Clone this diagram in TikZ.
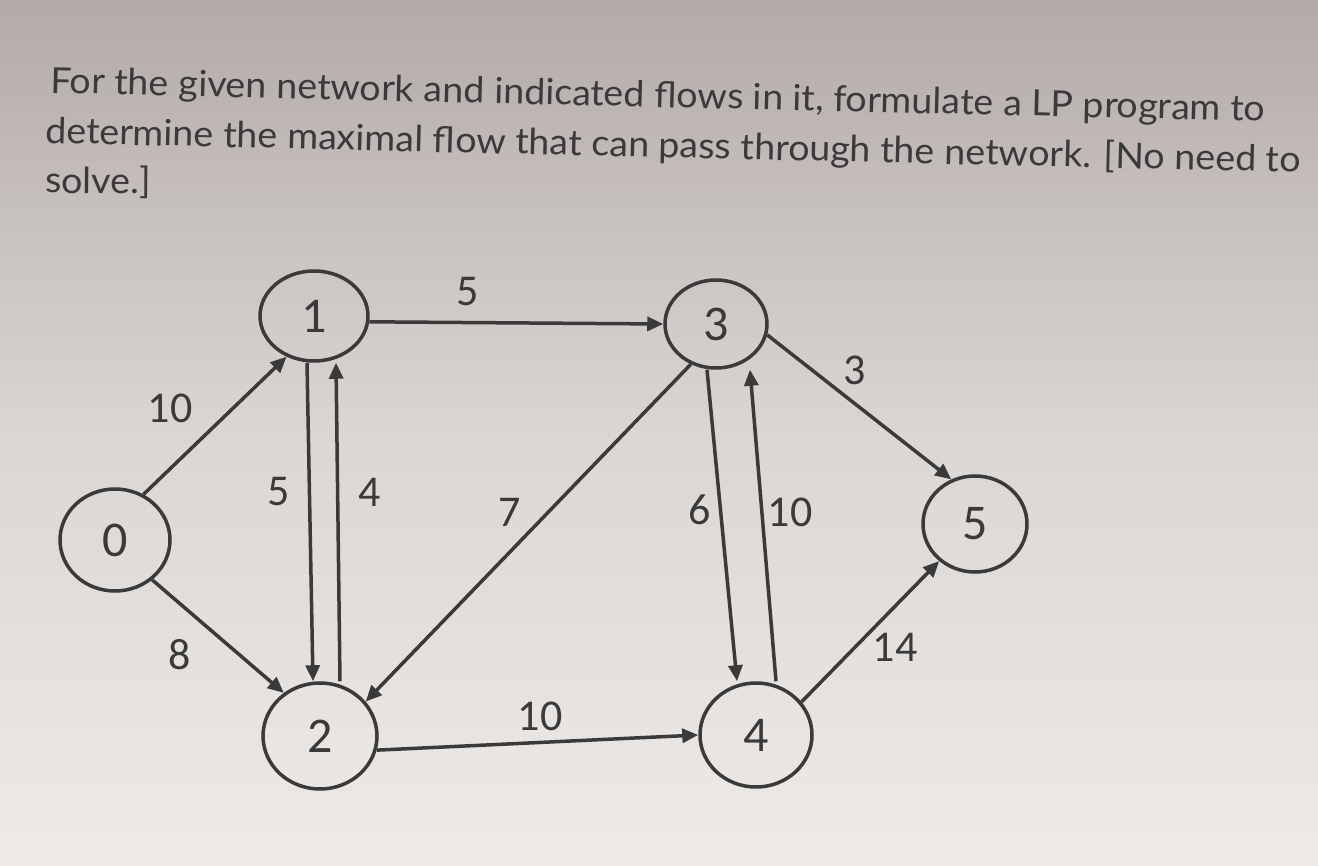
\documentclass[tikz,border=0pt]{standalone}
\usepackage{fontspec}
\setmainfont{Lato}
\newfontfamily\diagfont{Carlito}
\usetikzlibrary{shapes.geometric,arrows.meta}
\definecolor{ink}{HTML}{3A3A3A}
\definecolor{bgtop}{HTML}{B3AAA9}
\definecolor{bgmid}{HTML}{DAD6D3}
\definecolor{bgbot}{HTML}{EDEAE7}
\tikzset{
  vert/.style={ellipse, draw=ink, line width=3.5pt, inner sep=0pt,
    font=\diagfont\fontsize{50}{50}\selectfont, text=ink},
  arr/.style={draw=ink, line width=3.5pt,
    -{Triangle[length=16pt,width=14pt]}},
  elab/.style={font=\diagfont\fontsize{44}{44}\selectfont, text=ink, inner sep=0pt},
  head/.style={font=\fontsize{36}{36}\selectfont, text=ink, anchor=base west,
    inner sep=0pt, xscale=1.045, rotate=-1.4}
}
\begin{document}
\begin{tikzpicture}[x=1pt,y=-1pt]
\shade[top color=bgtop, bottom color=bgbot, middle color=bgmid] (0,0) rectangle (1318,866);
\useasboundingbox (0,0) rectangle (1318,866);
% heading
\node[head] (t1) at (50,93) {For the given network and indicated flows in it, formulate a LP program to};
\node[head] (t2) at (45,143) {determine the maximal flow that can pass through the network. [No need to};
\node[head, rotate=1.0] (t3) at (45,193) {solve.]};
% vertices
\node[vert, minimum width=110pt, minimum height=102pt] (n0) at (115,540) {0};
\node[vert, minimum width=108pt, minimum height=90pt] (n1) at (314,316) {1};
\node[vert, minimum width=114pt, minimum height=106pt] (n2) at (320,736) {2};
\node[vert, minimum width=102pt, minimum height=88pt] (n3) at (716,324) {3};
\node[vert, minimum width=112pt, minimum height=104pt] (n4) at (756,735) {4};
\node[vert, minimum width=104pt, minimum height=96pt] (n5) at (975,524) {5};
% edges
\draw[arr] (n0.58) -- (n1.236);
\draw[arr] (n0.-47) -- (n2.130);
\draw[arr] ([xshift=-7pt]n1.south) -- ([xshift=-7pt]n2.north);
\draw[arr] ([xshift=20pt]n2.north) -- ([xshift=22pt]n1.south);
\draw[arr] (n1.-6) -- (n3.west);
\draw[arr] (n3.238) -- (n2.37);
\draw[arr] (n2.-14) -- (n4.west);
\draw[arr] (n3.-12) -- (n5.118);
\draw[arr] ([xshift=-9pt]n3.south) -- ([xshift=-19pt]n4.north);
\draw[arr] ([xshift=20pt]n4.north) -- ([xshift=34pt]n3.south);
\draw[arr] (n4.36) -- (n5.226);
% edge labels
\node[elab] (l01) at (170,408) {10};
\node[elab] (l02) at (180,655) {8};
\node[elab] (l12) at (279,492) {5};
\node[elab] (l21) at (370,492) {4};
\node[elab] (l13) at (468,292) {5};
\node[elab] (l32) at (510,512) {7};
\node[elab] (l24) at (540,716) {10};
\node[elab] (l34) at (700,510) {6};
\node[elab] (l43) at (790,512) {10};
\node[elab] (l35) at (855,370) {3};
\node[elab] (l45) at (895,647) {14};
\end{tikzpicture}
\end{document}
